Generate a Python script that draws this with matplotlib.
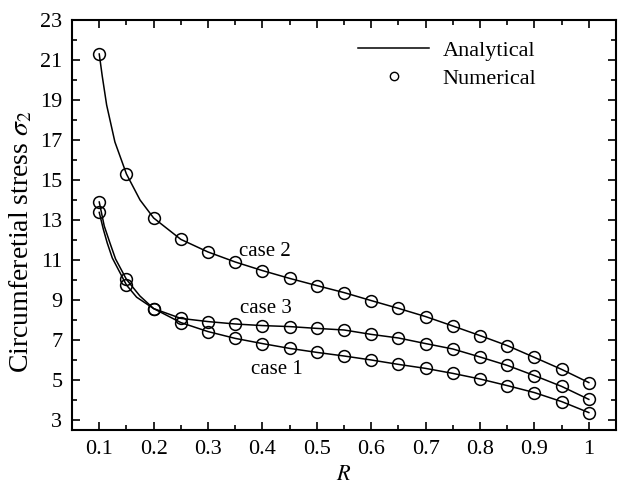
import matplotlib
matplotlib.use("Agg")
import matplotlib.pyplot as plt
from matplotlib.lines import Line2D
from matplotlib.ticker import MultipleLocator

plt.rcParams['font.family'] = ['Liberation Serif', 'DejaVu Serif']
plt.rcParams['mathtext.fontset'] = 'stix'

# numerical points
R = [0.1, 0.15, 0.2, 0.25, 0.3, 0.35, 0.4, 0.45, 0.5, 0.55, 0.6,
     0.65, 0.7, 0.75, 0.8, 0.85, 0.9, 0.95, 1.0]
case1 = [13.38, 9.75, 8.57, 7.87, 7.42, 7.08, 6.82, 6.58, 6.38, 6.20, 6.00,
         5.78, 5.58, 5.33, 5.05, 4.72, 4.37, 3.92, 3.37]
case2 = [21.3, 15.3, 13.1, 12.03, 11.4, 10.9, 10.47, 10.08, 9.72, 9.37, 8.97,
         8.58, 8.17, 7.70, 7.22, 6.72, 6.13, 5.53, 4.87]
case3 = [13.9, 10.03, 8.57, 8.08, 7.92, 7.80, 7.72, 7.67, 7.58, 7.50, 7.28,
         7.10, 6.82, 6.55, 6.15, 5.73, 5.22, 4.68, 4.03]

R_a1 = [0.1, 0.1074, 0.1147, 0.124, 0.15, 0.1687] + R[2:]
a1 = [13.38, 12.55, 11.85, 11.1, 9.75, 9.14] + case1[2:]
R_a2 = [0.1, 0.1055, 0.1136, 0.1288, 0.15, 0.175] + R[2:]
a2 = [21.3, 20.2, 18.75, 16.9, 15.3, 14.0] + case2[2:]
R_a3 = [0.1, 0.1092, 0.1197, 0.130, 0.15, 0.1748] + R[2:]
a3 = [13.9, 12.7, 11.85, 11.05, 10.03, 9.2] + case3[2:]

fig = plt.figure(figsize=(6.21, 4.84), dpi=100)
ax = fig.add_axes([0.116, 0.1116, 0.876, 0.8471])

for xa, ya, xn, yn in [(R_a1, a1, R, case1), (R_a2, a2, R, case2), (R_a3, a3, R, case3)]:
    ax.plot(xa, ya, color='black', lw=1.1)
    ax.plot(xn, yn, 'o', mfc='none', mec='black', ms=8.5, mew=1.1)

ax.text(0.404, 11.4, 'case 2', fontsize=15, ha='center', va='center')
ax.text(0.406, 8.55, 'case 3', fontsize=15, ha='center', va='center')
ax.text(0.426, 5.5, 'case 1', fontsize=15, ha='center', va='center')

ax.set_xlim(0.05, 1.05)
ax.set_ylim(2.5, 23)
ax.xaxis.set_minor_locator(MultipleLocator(0.05))
ax.yaxis.set_minor_locator(MultipleLocator(1))
ax.set_xticks([0.1, 0.2, 0.3, 0.4, 0.5, 0.6, 0.7, 0.8, 0.9, 1.0])
ax.set_xticklabels(['0.1', '0.2', '0.3', '0.4', '0.5', '0.6', '0.7', '0.8', '0.9', '1'])
ax.set_yticks([3, 5, 7, 9, 11, 13, 15, 17, 19, 21, 23])
ax.tick_params(which='both', direction='in', top=True, right=True, labelsize=16, width=1.2)
ax.tick_params(which='major', length=6, pad=7)
ax.tick_params(which='minor', length=3.5)
for s in ax.spines.values():
    s.set_linewidth(1.5)

ax.set_xlabel('$R$', fontsize=16, labelpad=5)
ax.set_ylabel(r'Circumferetial stress $\sigma_2$', fontsize=20)
ax.yaxis.set_label_coords(-0.07, 0.46)

handles = [Line2D([], [], color='black', lw=1.1),
           Line2D([], [], ls='none', marker='o', mfc='none', mec='black', ms=6, mew=1.0)]
ax.legend(handles, ['Analytical', 'Numerical'], loc='upper right', frameon=False,
          fontsize=16, bbox_to_anchor=(0.89, 1.0), handlelength=3.2, labelspacing=0.35,
          handletextpad=0.6)

fig.savefig('out.png', dpi=100)
